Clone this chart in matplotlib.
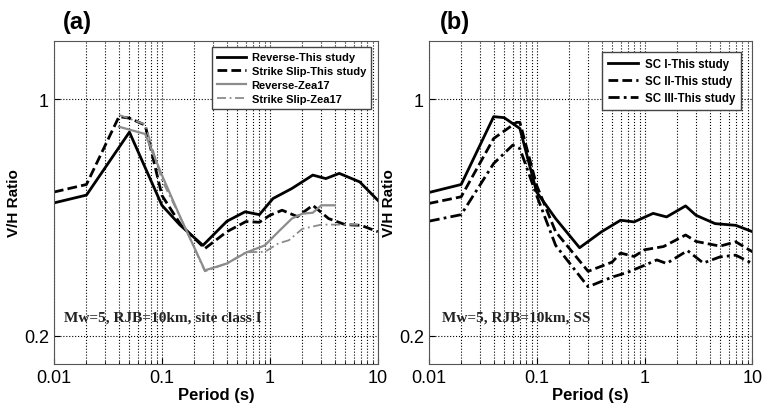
import matplotlib
matplotlib.use('Agg')
from matplotlib import pyplot as plt
from matplotlib.ticker import FixedLocator, NullFormatter, LogLocator

plt.rcParams['font.family'] = ['Liberation Sans', 'DejaVu Sans']

# panel (a)
rev_x = [0.01, 0.02, 0.05, 0.1, 0.147, 0.24, 0.4, 0.59, 0.8, 1.07, 1.6, 2.5, 3.3, 4.4, 6.8, 10]
rev_y = [0.494, 0.521, 0.80, 0.486, 0.425, 0.37, 0.436, 0.465, 0.456, 0.509, 0.545, 0.597, 0.583, 0.604, 0.57, 0.503]
ss_x = [0.01, 0.02, 0.04, 0.05, 0.07, 0.1, 0.15, 0.25, 0.4, 0.6, 0.8, 1.0, 1.3, 1.8, 2.5, 3.5, 5, 7, 10]
ss_y = [0.532, 0.56, 0.889, 0.88, 0.839, 0.52, 0.425, 0.362, 0.406, 0.435, 0.433, 0.454, 0.47, 0.45, 0.486, 0.444, 0.426, 0.424, 0.406]
zrev_x = [0.04, 0.07, 0.1, 0.15, 0.25, 0.4, 0.6, 0.9, 1.2, 1.6, 2.0, 2.5, 3.0, 4.0]
zrev_y = [0.83, 0.79, 0.597, 0.444, 0.312, 0.327, 0.352, 0.37, 0.406, 0.444, 0.459, 0.462, 0.486, 0.486]
zss_x = [0.04, 0.07, 0.1, 0.15, 0.25, 0.4, 0.6, 0.9, 1.2, 1.5, 2.0, 3.0, 5.0, 7.0]
zss_y = [0.90, 0.843, 0.577, 0.444, 0.31, 0.327, 0.353, 0.354, 0.375, 0.383, 0.414, 0.426, 0.426, 0.426]

# panel (b)
sc1_x = [0.01, 0.02, 0.04, 0.05, 0.07, 0.1, 0.15, 0.25, 0.4, 0.6, 0.8, 1.2, 1.6, 2.4, 3.0, 4.5, 7, 10]
sc1_y = [0.53, 0.56, 0.889, 0.883, 0.82, 0.532, 0.444, 0.364, 0.406, 0.439, 0.434, 0.46, 0.449, 0.484, 0.454, 0.429, 0.424, 0.406]
sc2_x = [0.01, 0.02, 0.04, 0.065, 0.07, 0.1, 0.15, 0.3, 0.5, 0.6, 0.8, 1.0, 1.5, 2.4, 3.0, 5, 7, 10]
sc2_y = [0.492, 0.515, 0.766, 0.855, 0.855, 0.557, 0.406, 0.31, 0.33, 0.351, 0.343, 0.359, 0.367, 0.397, 0.38, 0.368, 0.379, 0.354]
sc3_x = [0.01, 0.02, 0.04, 0.06, 0.07, 0.1, 0.15, 0.3, 0.5, 0.7, 1.0, 1.3, 1.6, 2.5, 3.5, 5, 7, 10]
sc3_y = [0.436, 0.456, 0.646, 0.732, 0.715, 0.52, 0.37, 0.279, 0.298, 0.308, 0.323, 0.335, 0.327, 0.357, 0.328, 0.342, 0.346, 0.327]


def style_axes(ax):
    ax.set_xscale('log')
    ax.set_yscale('log')
    ax.set_xlim(0.01, 10)
    ax.set_ylim(0.165, 1.49)
    ax.yaxis.set_major_locator(FixedLocator([0.2, 1]))
    ax.yaxis.set_minor_locator(FixedLocator([]))
    ax.yaxis.set_minor_formatter(NullFormatter())
    ax.set_yticklabels(['0.2', '1'])
    ax.xaxis.set_major_locator(FixedLocator([0.01, 0.1, 1, 10]))
    ax.set_xticklabels(['0.01', '0.1', '1', '10'])
    ax.xaxis.set_minor_locator(LogLocator(base=10, subs=range(2, 10)))
    ax.xaxis.set_minor_formatter(NullFormatter())
    ax.grid(True, which='major', axis='both', color='black', linestyle=':', linewidth=0.8)
    ax.grid(True, which='minor', axis='x', color='black', linestyle=':', linewidth=0.8)
    ax.tick_params(which='both', direction='in', labelsize=13, length=4)
    ax.tick_params(which='minor', length=2)
    ax.set_xlabel('Period (s)', fontsize=12, fontweight='bold', labelpad=1)
    ax.set_ylabel('V/H Ratio', fontsize=11, fontweight='bold', labelpad=2)
    for s in ax.spines.values():
        s.set_color('#555555')


fig = plt.figure(figsize=(7.71, 4.10), dpi=100)
ax1 = fig.add_axes([0.070, 0.110, 0.420, 0.788])
ax2 = fig.add_axes([0.556, 0.110, 0.420, 0.788])

ax1.plot(rev_x, rev_y, color='black', linewidth=2.0, label='Reverse-This study')
ax1.plot(ss_x, ss_y, color='black', linewidth=2.0, linestyle=(0, (3.5, 1.5)), label='Strike Slip-This study')
ax1.plot(zrev_x, zrev_y, color='#8c8c8c', linewidth=1.6, label='Reverse-Zea17')
ax1.plot(zss_x, zss_y, color='#8c8c8c', linewidth=1.3, linestyle=(0, (5, 2, 1, 2)), label='Strike Slip-Zea17')
style_axes(ax1)
ax1.legend(loc='upper right', prop={'weight': 'bold', 'size': 8.0},
           fancybox=False, edgecolor='#444444', framealpha=1, borderaxespad=0.6,
           handlelength=2.6, handletextpad=0.5, labelspacing=0.35, borderpad=0.45)
ax1.text(0.03, 0.133, 'Mw=5, RJB=10km, site class I', transform=ax1.transAxes,
         family='Liberation Serif', fontweight='bold', fontsize=11, color='#222222',
         va='baseline')
fig.text(0.081, 0.946, '(a)', fontsize=17, fontweight='bold', va='center')

ax2.plot(sc1_x, sc1_y, color='black', linewidth=2.0, label='SC I-This study')
ax2.plot(sc2_x, sc2_y, color='black', linewidth=2.0, linestyle=(0, (3.5, 1.5)), label='SC II-This study')
ax2.plot(sc3_x, sc3_y, color='black', linewidth=2.0, linestyle=(0, (4, 1.5, 1, 1.5)), label='SC III-This study')
style_axes(ax2)
ax2.legend(loc='upper right', prop={'weight': 'bold', 'size': 8.3},
           fancybox=False, edgecolor='#444444', framealpha=1, borderaxespad=1.0,
           handlelength=2.6, handletextpad=0.6, labelspacing=0.45, borderpad=0.5)
ax2.text(0.04, 0.133, 'Mw=5, RJB=10km, SS', transform=ax2.transAxes,
         family='Liberation Serif', fontweight='bold', fontsize=11, color='#222222',
         va='baseline')
fig.text(0.570, 0.946, '(b)', fontsize=17, fontweight='bold', va='center')

fig.savefig('out.png', dpi=100)
